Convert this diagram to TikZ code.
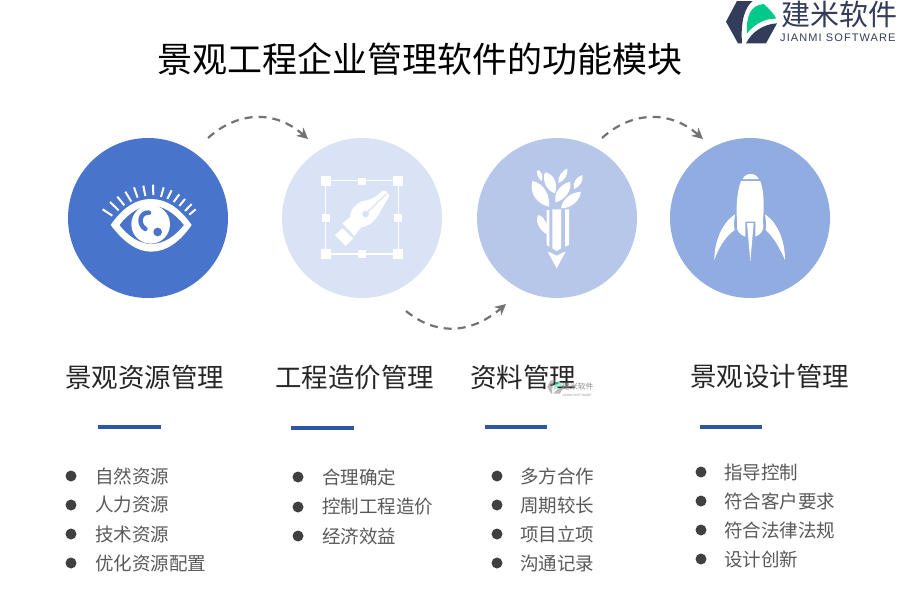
\documentclass[tikz,border=0pt]{standalone}
\usepackage{fontspec}
\setmainfont{Liberation Sans}
\newfontfamily\cjk{Noto Sans CJK SC}
\usetikzlibrary{arrows.meta}

\definecolor{cone}{HTML}{4874CB}
\definecolor{ctwo}{HTML}{DAE3F5}
\definecolor{cthree}{HTML}{B6C7EA}
\definecolor{cfour}{HTML}{91ACE0}
\definecolor{barblue}{HTML}{2F55A8}
\definecolor{logodark}{HTML}{333C5A}
\definecolor{logogreen}{HTML}{00C98A}

\tikzset{
  ball/.style={circle, minimum size=160pt, inner sep=0pt},
  titletext/.style={font=\cjk\fontsize{35}{35}\selectfont, text=black, inner sep=0pt},
  headtext/.style={anchor=west, font=\cjk\fontsize{26.5}{26.5}\selectfont, text=black!85, inner sep=0pt},
  itemtext/.style={anchor=west, font=\cjk\fontsize{18.5}{18.5}\selectfont, text=black!65, inner sep=0pt},
  itemdot/.style={circle, fill=black!75, minimum size=11pt, inner sep=0pt},
  flow/.style={draw=black!55, line width=2.2pt, dash pattern=on 8pt off 6pt, -{Stealth[length=11pt,width=11pt]}},
  bar/.style={draw=barblue, line width=4.5pt}
}

% logo mark, drawn in the units of a 60 x 48 box
\newcommand{\logomark}[2]{
  \fill[#1] (12,65) -- (45,3) -- (92,3) .. controls (70,20) and (55,60) .. (60,130) -- (48,130) -- cycle;
  \fill[#2] (75,100) .. controls (72,50) and (85,15) .. (125,12) .. controls (140,25) and (155,40) .. (163,56) .. controls (130,55) and (100,70) .. (75,100) -- cycle;
  \fill[#1] (72,130) .. controls (90,95) and (125,72) .. (165,70) -- (132,130) -- cycle;
}

\begin{document}
\begin{tikzpicture}[x=1pt, y=-1pt]
    \useasboundingbox (0,0) rectangle (900,600);

    \node[titletext] (title) at (420,59){景观工程企业管理软件的功能模块};

    % logo
    \begin{scope}[shift={(722,0)}, scale=1/3]
      \logomark{logodark}{logogreen}
    \end{scope}
    \node[anchor=west, inner sep=0pt, font=\cjk\fontsize{29}{29}\selectfont, text=logodark] (logoname) at (781,14){建米软件};
    \node[anchor=west, inner sep=0pt, font=\fontsize{11}{11}\selectfont\addfontfeatures{LetterSpace=10}, text=logodark] (logosub) at (780,38){JIANMI SOFTWARE};

    % circles
    \node[ball, fill=cone] (c1) at (148,218){};
    \node[ball, fill=ctwo] (c2) at (362,218){};
    \node[ball, fill=cthree] (c3) at (557,218){};
    \node[ball, fill=cfour] (c4) at (750,218){};

    % arrows
    \coordinate (a1s) at (208,138);
    \coordinate (a1e) at (308,139);
    \coordinate (a2s) at (406,311);
    \coordinate (a2e) at (506,304);
    \coordinate (a3s) at (602,138);
    \coordinate (a3e) at (703,139);
    \draw[flow] (a1s) .. controls (238,111) and (275,110) .. (a1e);
    \draw[flow] (a2s) .. controls (435,335) and (470,335) .. (a2e);
    \draw[flow] (a3s) .. controls (632,111) and (670,110) .. (a3e);

    % eye
    \begin{scope}[shift={(60,100)}, scale=1/3]
      \fill[white, even odd rule] (152,375) .. controls (190,320) and (230,297) .. (273,297) .. controls (320,297) and (360,325) .. (395,375) .. controls (360,425) and (320,455) .. (273,455) .. controls (230,455) and (190,425) .. (152,375) -- cycle
        (178,375) .. controls (205,340) and (240,317) .. (273,317) .. controls (310,317) and (345,340) .. (372,375) .. controls (345,410) and (310,432) .. (273,432) .. controls (240,432) and (205,410) .. (178,375) -- cycle;
      \fill[white] (272,373) circle (58);
      \draw[cone, line width=4.5pt, line cap=round] (267,338) .. controls (240,335) and (232,372) .. (256,387);
      \fill[cone] (293,396) circle (13);
      \draw[white, line width=2pt]
        (128,328) -- (157,347) (150,306) -- (176,331) (172,290) -- (193,316)
        (196,275) -- (214,305) (222,262) -- (233,293) (250,257) -- (256,288)
        (279,254) -- (280,285) (311,262) -- (303,291) (335,271) -- (322,297)
        (358,283) -- (341,306) (375,297) -- (358,318) (395,312) -- (375,333)
        (407,328) -- (388,344);
    \end{scope}

    % pen
    \begin{scope}[shift={(315,170)}, scale=1/3]
      \draw[white, line width=1.5pt] (32,32) rectangle (250,252);
      \fill[white] (17,17) rectangle (49,49);
      \fill[white] (233,17) rectangle (265,49);
      \fill[white] (17,236) rectangle (49,268);
      \fill[white] (233,236) rectangle (265,268);
      \fill[white] (130,23) rectangle (154,46);
      \fill[white] (20,132) rectangle (45,156);
      \fill[white] (237,132) rectangle (261,156);
      \fill[white] (128,240) rectangle (152,264);
      \fill[white] (203,62) -- (213,63) -- (223,76) -- (220,84) .. controls (205,105) and (200,120) .. (190,135) .. controls (175,160) and (155,170) .. (138,172) -- (118,198) -- (82,160) -- (105,142) .. controls (105,120) and (125,95) .. (150,92) .. controls (170,90) and (190,75) .. (203,62) -- cycle;
      \draw[ctwo, line width=1.2pt] (152,132) -- (214,72);
      \fill[ctwo] (152,132) circle (10);
      \fill[white] (60,195) -- (82,175) -- (115,205) -- (92,228) -- cycle;
    \end{scope}

    % pencil
    \begin{scope}[shift={(525,165)}, scale=1/3]
      \fill[white] (22,48) .. controls (60,55) and (75,95) .. (72,125) .. controls (40,118) and (12,90) .. (22,48) -- cycle;
      \fill[white] (60,22) .. controls (85,25) and (100,55) .. (90,85) .. controls (65,78) and (50,45) .. (60,22) -- cycle;
      \fill[white] (38,15) .. controls (50,18) and (56,35) .. (50,48) .. controls (40,42) and (32,25) .. (38,15) -- cycle;
      \fill[white] (127,10) .. controls (130,30) and (118,48) .. (100,54) .. controls (98,35) and (110,18) .. (127,10) -- cycle;
      \fill[white] (136,50) .. controls (140,80) and (118,105) .. (92,112) .. controls (85,85) and (105,58) .. (136,50) -- cycle;
      \fill[white] (172,30) .. controls (176,48) and (165,65) .. (147,72) .. controls (142,52) and (155,35) .. (172,30) -- cycle;
      \fill[white] (168,80) .. controls (165,108) and (138,130) .. (108,130) .. controls (112,100) and (140,82) .. (168,80) -- cycle;
      \fill[white] (40,150) .. controls (62,158) and (70,180) .. (65,207) .. controls (45,197) and (28,170) .. (40,150) -- cycle;
      \fill[white] (65,135) -- (73,135) -- (73,245) -- (65,240) -- cycle;
      \fill[white] (82,133) -- (108,133) -- (108,250) -- (95,258) -- (82,250) -- cycle;
      \fill[white] (120,133) -- (132,133) -- (132,240) -- (120,245) -- cycle;
      \fill[white] (68,260) .. controls (78,262) and (88,270) .. (95,272) .. controls (102,270) and (112,262) .. (122,260) -- (95,310) -- cycle;
    \end{scope}

    % rocket
    \begin{scope}[shift={(705,165)}, scale=1/3]
      \fill[white] (113,42) .. controls (118,32) and (126,27) .. (137,27) .. controls (148,27) and (156,32) .. (161,42) -- cycle;
      \fill[white] (108,48) -- (166,48) .. controls (175,75) and (178,110) .. (175,150) .. controls (174,165) and (172,170) .. (175,180) .. controls (178,195) and (165,210) .. (151,215) -- (151,170) -- (121,170) -- (121,215) .. controls (105,210) and (92,195) .. (96,180) .. controls (97,170) and (96,165) .. (95,150) .. controls (94,110) and (98,75) .. (108,48) -- cycle;
      \fill[white] (90,148) .. controls (88,165) and (85,180) .. (89,195) .. controls (60,215) and (40,250) .. (28,285) .. controls (28,230) and (50,175) .. (90,148) -- cycle;
      \fill[white] (180,148) .. controls (182,165) and (186,180) .. (182,195) .. controls (205,215) and (225,250) .. (240,285) .. controls (240,230) and (220,175) .. (180,148) -- cycle;
      \fill[white] (126,174) -- (146,174) -- (136,290) -- cycle;
    \end{scope}

    % headings
    \node[headtext] (h1) at (65,377){景观资源管理};
    \node[headtext] (h2) at (275,377){工程造价管理};
    \node[headtext] (h3) at (470,377){资料管理};
    \node[headtext] (h4) at (690,376){景观设计管理};

    % bars
    \draw[bar] (98,427) to (161,427);
    \draw[bar] (291,428) to (354,428);
    \draw[bar] (485,427) to (547,427);
    \draw[bar] (700,427) to (762,427);

    % lists
    \node[itemdot] (d11) at (71,476){};
    \node[itemtext] (t11) at (95,476){自然资源};
    \node[itemdot] (d12) at (71,505){};
    \node[itemtext] (t12) at (95,505){人力资源};
    \node[itemdot] (d13) at (71,534){};
    \node[itemtext] (t13) at (95,534){技术资源};
    \node[itemdot] (d14) at (71,563){};
    \node[itemtext] (t14) at (95,563){优化资源配置};

    \node[itemdot] (d21) at (298,477){};
    \node[itemtext] (t21) at (322,477){合理确定};
    \node[itemdot] (d22) at (298,507){};
    \node[itemtext] (t22) at (322,507){控制工程造价};
    \node[itemdot] (d23) at (298,536){};
    \node[itemtext] (t23) at (322,536){经济效益};

    \node[itemdot] (d31) at (497,476){};
    \node[itemtext] (t31) at (520,476){多方合作};
    \node[itemdot] (d32) at (497,505){};
    \node[itemtext] (t32) at (520,505){周期较长};
    \node[itemdot] (d33) at (497,534){};
    \node[itemtext] (t33) at (520,534){项目立项};
    \node[itemdot] (d34) at (497,563){};
    \node[itemtext] (t34) at (520,563){沟通记录};

    \node[itemdot] (d41) at (701,472){};
    \node[itemtext] (t41) at (724,472){指导控制};
    \node[itemdot] (d42) at (701,501){};
    \node[itemtext] (t42) at (724,501){符合客户要求};
    \node[itemdot] (d43) at (701,530){};
    \node[itemtext] (t43) at (724,530){符合法律法规};
    \node[itemdot] (d44) at (701,559){};
    \node[itemtext] (t44) at (724,559){设计创新};

    % watermark
    \begin{scope}[shift={(546,380)}, scale=0.105, opacity=.6]
      \logomark{black!45}{logogreen!60}
    \end{scope}
    \node[anchor=west, inner sep=0pt, font=\cjk\fontsize{7.8}{8}\selectfont, text=black!45] (wname) at (562,387){建米软件};
    \node[anchor=west, inner sep=0pt, font=\fontsize{3.2}{4}\selectfont, text=black!40] (wsub) at (562,395){JIANMI SOFTWARE};

\end{tikzpicture}
\end{document}
